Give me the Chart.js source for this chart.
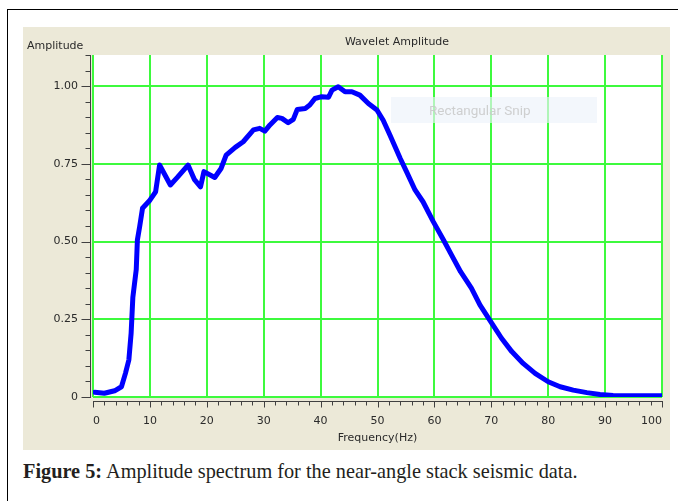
<!DOCTYPE html>
<html>
<head>
<meta charset="utf-8">
<title>Wavelet Amplitude</title>
<script src="https://cdn.jsdelivr.net/npm/chart.js@4/dist/chart.umd.min.js"></script>
<style>
  html, body { margin: 0; padding: 0; background: #fff; width: 678px; height: 501px; overflow: hidden; position: relative; }
  #frame { position: absolute; left: 7px; top: 9px; width: 720px; height: 540px; border-left: 1px solid #000; border-top: 1px solid #000; }
  #panel { position: absolute; left: 23px; top: 27px; width: 647px; height: 423px; background: #ece9d8; }
  #panel canvas { position: absolute; left: 0; top: 0; }
  #snip { position: absolute; left: 368px; top: 70px; width: 206px; height: 26px; box-sizing: border-box; padding-left: 38px;
          background: rgba(236, 243, 251, 0.65); color: rgba(200, 200, 200, 0.85); font: 13.5px Roboto, sans-serif; line-height: 26px; white-space: nowrap; }
  #caption { position: absolute; left: 23px; top: 460px; font: 20.3px "Liberation Serif", serif; color: #231f20; white-space: nowrap; }
</style>
</head>
<body>
<div id="frame"></div>
<div id="panel">
  <canvas id="spectrum" width="647" height="423"></canvas>
  <div id="snip">Rectangular Snip</div>
</div>
<div id="caption"><b>Figure 5:</b> Amplitude spectrum for the near-angle stack seismic data.</div>
<script>
// Amplitude spectrum of the near-angle stack wavelet
const frequencyHz = [
  0.3, 2.0, 3.8, 5.0, 5.7, 6.3, 6.7, 7.0, 7.6, 7.8, 8.2, 8.7, 10.0, 11.0, 11.7,
  13.6, 14.9, 16.7, 17.8, 18.9, 19.5, 21.4, 22.5, 23.4, 25.0, 26.4, 28.2, 29.3,
  30.2, 31.1, 32.4, 33.2, 34.3, 35.2, 35.9, 37.3, 38.1, 39.0, 40.2, 41.4, 42.0,
  43.1, 44.3, 45.5, 46.9, 48.4, 49.9, 51.0, 52.2, 54.0, 55.1, 56.6, 58.0, 59.8,
  61.6, 63.0, 64.6, 66.5, 68.0, 70.1, 71.8, 73.6, 75.6, 77.7, 80.0, 82.1, 84.4,
  86.8, 89.1, 91.4, 95.0, 100.0
];
const amplitude = [
  0.015, 0.012, 0.020, 0.033, 0.076, 0.119, 0.205, 0.320, 0.410, 0.505, 0.548, 0.607, 0.633, 0.660, 0.746,
  0.682, 0.708, 0.746, 0.700, 0.676, 0.725, 0.706, 0.735, 0.778, 0.803, 0.821, 0.859, 0.864,
  0.855, 0.875, 0.899, 0.896, 0.882, 0.893, 0.925, 0.928, 0.939, 0.960, 0.966, 0.964, 0.987,
  0.998, 0.982, 0.982, 0.971, 0.944, 0.923, 0.890, 0.842, 0.767, 0.725, 0.666, 0.628, 0.564,
  0.505, 0.457, 0.403, 0.350, 0.296, 0.237, 0.189, 0.146, 0.108, 0.076, 0.049, 0.033, 0.022,
  0.014, 0.008, 0.005, 0.004, 0.004
];
const freqTicks = [0, 10, 20, 30, 40, 50, 60, 70, 80, 90, 100];
const freqTickLabels = ['0', '10', '20', '30', '40', '50', '60', '70', '80', '90', '100'];
const ampTicks = [0, 0.25, 0.5, 0.75, 1.0];
const ampTickLabels = ['0', '0.25', '0.50', '0.75', '1.00'];

const GRID_GREEN = '#3dfa3d';
const AXIS_INK = '#404040';
const TEXT_INK = '#2a2a2a';

Chart.defaults.font.family = '"DejaVu Sans", sans-serif';
Chart.defaults.font.size = 11;
Chart.defaults.color = TEXT_INK;

// white plotting field on the grey-beige panel
const plotBackground = {
  id: 'plotBackground',
  beforeDraw(chart) {
    const { ctx, chartArea: a } = chart;
    ctx.save();
    ctx.fillStyle = '#ffffff';
    ctx.fillRect(a.left, a.top, a.right - a.left, a.bottom - a.top);
    ctx.restore();
  }
};

// axis rules with long major and short minor tick marks, set slightly off the plot edge
const axisRules = {
  id: 'axisRules',
  afterDraw(chart) {
    const { ctx, chartArea: a, scales: { x, y } } = chart;
    ctx.save();
    ctx.strokeStyle = AXIS_INK;
    ctx.lineWidth = 1;
    ctx.beginPath();
    const ax = Math.round(a.left) - 2.5;
    ctx.moveTo(ax, Math.round(y.getPixelForValue(y.max)));
    ctx.lineTo(ax, Math.round(y.getPixelForValue(0)) + 1);
    for (let k = 0; k <= 22; k++) {
      const py = Math.round(y.getPixelForValue(k * 0.05)) + 0.5;
      const len = k % 5 === 0 ? 9 : 5;
      ctx.moveTo(ax, py);
      ctx.lineTo(ax - len, py);
    }
    const ay = Math.round(a.bottom) + 4.5;
    ctx.moveTo(Math.round(x.getPixelForValue(0)), ay);
    ctx.lineTo(Math.round(x.getPixelForValue(100)) + 1, ay);
    for (let k = 0; k <= 50; k++) {
      const px = Math.round(x.getPixelForValue(k * 2)) + 0.5;
      const len = k % 5 === 0 ? 6 : 4;
      ctx.moveTo(px, ay);
      ctx.lineTo(px, ay + len);
    }
    ctx.stroke();
    ctx.restore();
  }
};

// chart heading and the vertical-axis caption above the axis
const headings = {
  id: 'headings',
  afterDraw(chart) {
    const { ctx } = chart;
    ctx.save();
    ctx.font = '11px "DejaVu Sans", sans-serif';
    ctx.fillStyle = TEXT_INK;
    ctx.textBaseline = 'middle';
    ctx.textAlign = 'center';
    ctx.fillText('Wavelet Amplitude', 374, 15);
    ctx.textAlign = 'left';
    ctx.fillText('Amplitude', 4, 19);
    ctx.restore();
  }
};

new Chart(document.getElementById('spectrum'), {
  type: 'line',
  data: {
    datasets: [{
      data: frequencyHz.map((f, i) => ({ x: f, y: amplitude[i] })),
      borderColor: '#0000ff',
      borderWidth: 5,
      borderJoinStyle: 'round',
      borderCapStyle: 'round',
      pointRadius: 0,
      tension: 0,
      fill: false
    }]
  },
  options: {
    responsive: false,
    animation: false,
    events: [],
    layout: { padding: { top: 28, right: 8, left: 0, bottom: 0 } },
    plugins: { legend: { display: false }, tooltip: { enabled: false } },
    scales: {
      x: {
        type: 'linear',
        min: 0,
        max: 100,
        afterBuildTicks: s => { s.ticks = freqTicks.map(v => ({ value: v })); },
        afterFit: s => { s.height = 53; s.paddingLeft = 0; s.paddingRight = 0; },
        grid: { color: GRID_GREEN, lineWidth: 2, drawTicks: false },
        border: { display: false },
        ticks: { padding: 18, maxRotation: 0, autoSkip: false, align: 'inner', callback: (v, i) => freqTickLabels[i] },
        title: { display: true, text: 'Frequency(Hz)', padding: { top: 0, bottom: 5 } }
      },
      y: {
        type: 'linear',
        min: 0,
        max: 1.1,
        afterBuildTicks: s => { s.ticks = ampTicks.map(v => ({ value: v })); },
        afterFit: s => { s.width = 70; s.paddingTop = 0; s.paddingBottom = 0; },
        grid: { color: GRID_GREEN, lineWidth: 2, drawTicks: false },
        border: { display: false },
        ticks: { padding: 15, autoSkip: false, callback: (v, i) => ampTickLabels[i] }
      }
    }
  },
  plugins: [plotBackground, axisRules, headings]
});
</script>
</body>
</html>
